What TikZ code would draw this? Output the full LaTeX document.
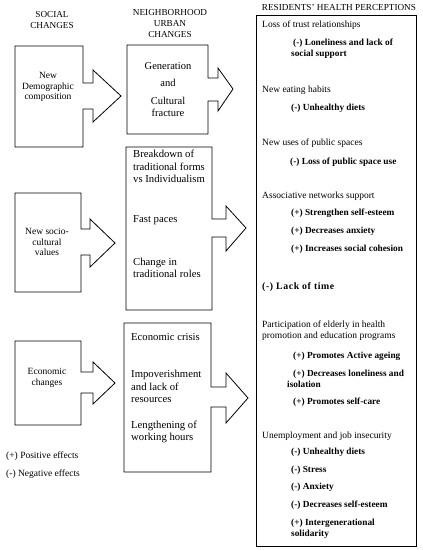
\documentclass[tikz,border=0pt]{standalone}
\usepackage{fontspec}
\setmainfont{Liberation Serif}
\newfontfamily\spacedbf[LetterSpace=6]{Liberation Serif}
\begin{document}
\begin{tikzpicture}[x=1pt,y=-1pt,
  arrowbox/.style={draw, line width=0.8pt, line join=miter},
  rtxt/.style={anchor=west, inner sep=0pt, font=\fontsize{9.5}{11.3}\selectfont, align=left},
  btxt/.style={anchor=west, inner sep=0pt, font=\fontsize{9.3}{11.3}\selectfont\bfseries, align=left},
  mtxt/.style={anchor=west, inner sep=0pt, font=\fontsize{10.7}{12.3}\selectfont, align=left},
  ltxt/.style={inner sep=0pt, font=\fontsize{9.5}{10.8}\selectfont, align=center},
  headtxt/.style={inner sep=0pt, font=\fontsize{9.2}{10.8}\selectfont, align=center}]
\useasboundingbox (0,0) rectangle (423,550);

% headers
\node[headtxt] (h1) at (52,20) {SOCIAL\\CHANGES};
\node[headtxt] (h2) at (170,23.5) {NEIGHBORHOOD\\URBAN\\CHANGES};
\node[headtxt] (h3) at (339,7) {RESIDENTS’ HEALTH PERCEPTIONS};

% left column arrow boxes
\draw[arrowbox] (15,46) -- (83,46) -- (83,83) -- (93,83) -- (93,70) -- (121,96) -- (93,122) -- (93,109) -- (83,109) -- (83,147) -- (15,147) -- cycle;
\draw[arrowbox] (15,193) -- (81,193) -- (81,229) -- (90,229) -- (90,219) -- (115,243) -- (90,267) -- (90,255) -- (81,255) -- (81,292) -- (15,292) -- cycle;
\draw[arrowbox] (15,341) -- (81,341) -- (81,372) -- (93,372) -- (93,362) -- (115,383) -- (93,404) -- (93,393) -- (81,393) -- (81,425) -- (15,425) -- cycle;

% middle column arrow boxes
\draw[arrowbox] (127,45) -- (208,45) -- (208,78) -- (218,78) -- (218,68) -- (233,89) -- (218,111) -- (218,101) -- (208,101) -- (208,134) -- (127,134) -- cycle;
\draw[arrowbox] (126,147) -- (212,147) -- (212,219) -- (226,219) -- (226,206) -- (246,228) -- (226,251) -- (226,237) -- (212,237) -- (212,310) -- (126,310) -- cycle;
\draw[arrowbox] (124,323) -- (211,323) -- (211,387) -- (226,387) -- (226,373) -- (248,398) -- (226,423) -- (226,407) -- (211,407) -- (211,472) -- (124,472) -- cycle;

% right box
\draw[arrowbox] (256,15) rectangle (416,546);

% left texts
\node[ltxt] (l1) at (48,87) {New\\Demographic\\composition};
\node[ltxt] (l2) at (47,242) {New socio-\\cultural\\values};
\node[ltxt] (l3) at (47,378) {Economic\\changes};
\node[rtxt] (lg1) at (6,456) {(+) Positive effects};
\node[rtxt] (lg2) at (6,474) {(-) Negative effects};

% middle texts
\node[inner sep=0pt, font=\fontsize{10.5}{12.3}\selectfont, align=center] (m1) at (168,89.5) {Generation\\[4.5pt]and\\[5.5pt]Cultural\\fracture};
\node[mtxt] (m2) at (133,166.5) {Breakdown of\\traditional forms\\vs Individualism};
\node[mtxt] (m3) at (133,220) {Fast paces};
\node[mtxt] (m4) at (133,267.5) {Change in\\traditional roles};
\node[mtxt] (m5) at (131,337) {Economic crisis};
\node[mtxt] (m6) at (131,386.5) {Impoverishment\\and lack of\\resources};
\node[mtxt] (m7) at (131,432) {Lengthening of\\working hours};

% right texts
\node[rtxt] (r1) at (262,25) {Loss of trust relationships};
\node[btxt] (r2) at (291,48.5) {\hspace*{2pt}(-) Loneliness and lack of\\social support};
\node[rtxt] (r3) at (262,90) {New eating habits};
\node[btxt] (r4) at (291,108) {(-) Unhealthy diets};
\node[rtxt] (r5) at (262,143) {New uses of public spaces};
\node[btxt] (r6) at (290,162) {(-) Loss of public space use};
\node[rtxt] (r7) at (262,196) {Associative networks support};
\node[btxt] (r8) at (291,213) {(+) Strengthen self-esteem};
\node[btxt] (r9) at (291,231) {(+) Decreases anxiety};
\node[btxt] (r10) at (291,249) {(+) Increases social cohesion};
\node[btxt, font=\fontsize{9.8}{12}\spacedbf\bfseries] (r11) at (262,287) {(-) Lack of time};
\node[rtxt] (r12) at (262,331) {Participation of elderly in health\\promotion and education programs};
\node[btxt] (r13) at (293,356) {(+) Promotes Active ageing};
\node[btxt] (r14) at (287,378.5) {\hspace*{6pt}(+) Decreases loneliness and\\isolation};
\node[btxt] (r15) at (293,402) {(+) Promotes self-care};
\node[rtxt] (r16) at (262,436) {Unemployment and job insecurity};
\node[btxt] (r17) at (291,452) {(-) Unhealthy diets};
\node[btxt] (r18) at (291,470) {(-) Stress};
\node[btxt] (r19) at (291,487) {(-) Anxiety};
\node[btxt] (r20) at (291,505) {(-) Decreases self-esteem};
\node[btxt] (r21) at (291,528.5) {(+) Intergenerational\\solidarity};
\end{tikzpicture}
\end{document}
